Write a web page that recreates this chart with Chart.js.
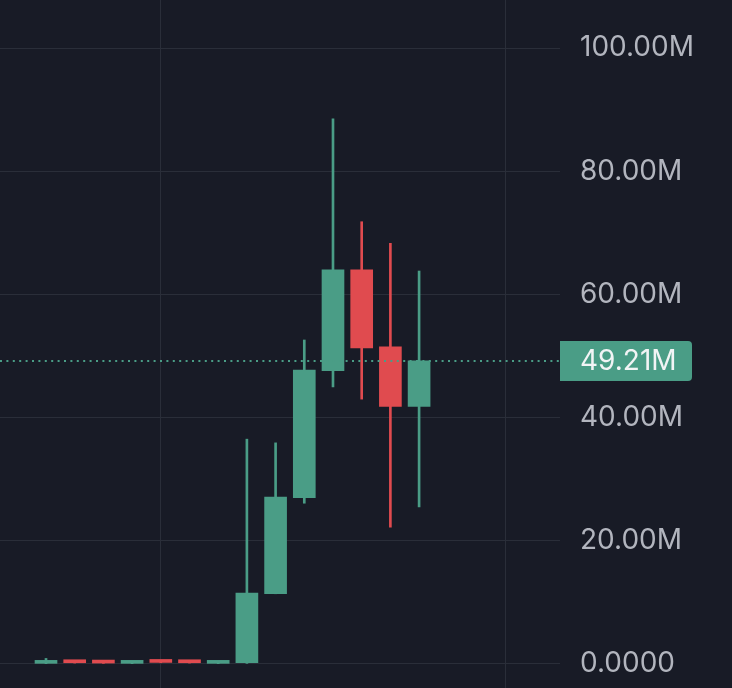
<!DOCTYPE html>
<html>
<head>
<meta charset="utf-8">
<script src="https://cdn.jsdelivr.net/npm/chart.js@4"></script>
<style>
  html, body { margin: 0; padding: 0; background: #181b26; }
  #wrap { width: 732px; height: 688px; }
</style>
</head>
<body>
<div id="wrap"><canvas id="candles" width="732" height="688"></canvas></div>
<script>
// values in millions
const opens  = [0.10, 0.40, 0.35, 0.10, 0.45, 0.40, 0.10, 0.20, 11.4, 27.0, 47.6, 64.0, 51.5, 41.8]
const closes = [0.30, 0.20, 0.15, 0.30, 0.25, 0.20, 0.30, 11.5, 27.1, 47.7, 64.0, 51.3, 41.8, 49.21]
const highs  = [0.90, 0.45, 0.40, 0.35, 0.50, 0.45, 0.35, 36.5, 35.9, 52.6, 88.5, 71.8, 68.3, 63.8]
const lows   = [0.05, 0.15, 0.10, 0.05, 0.20, 0.15, 0.05, 0.10, 11.4, 26.1, 45.0, 43.0, 22.2, 25.5]
const yTicks = [0, 20, 40, 60, 80, 100]
const xGridAt = [4, 16]
const lastPrice = 49.21

const green = '#4a9d86'
const red = '#e04b4f'
const fontFam = 'Inter, "Noto Sans", sans-serif'

const upDown = opens.map((o, i) => closes[i] >= o ? green : red)

function fmt(v) {
    if (v === 0) return '0.0000'
    return v.toFixed(2) + 'M'
}

// dotted last price line + label on the axis
const lastPricePlugin = {
    id: 'lastPrice',
    afterDatasetsDraw(chart) {
        const ctx = chart.ctx
        const y = chart.scales.y.getPixelForValue(lastPrice)
        const area = chart.chartArea
        ctx.save()
        ctx.strokeStyle = green
        ctx.lineWidth = 2
        ctx.setLineDash([2, 4.4])
        ctx.beginPath()
        ctx.moveTo(area.left, y)
        ctx.lineTo(area.right, y)
        ctx.stroke()
        ctx.restore()
    },
    afterDraw(chart) {
        const ctx = chart.ctx
        const y = chart.scales.y.getPixelForValue(lastPrice)
        const left = chart.chartArea.right
        ctx.save()
        ctx.fillStyle = green
        ctx.beginPath()
        ctx.roundRect(left, y - 20, 132, 40, [0, 4, 4, 0])
        ctx.fill()
        ctx.fillStyle = '#f2f4f5'
        ctx.font = '28px ' + fontFam
        ctx.textBaseline = 'middle'
        ctx.textAlign = 'left'
        ctx.fillText(fmt(lastPrice), left + 20, y + 1)
        ctx.restore()
    }
}

const ctx = document.getElementById('candles').getContext('2d')

new Chart(ctx, {
    type: 'bar',
    data: {
        datasets: [
            {
                // bodies
                data: opens.map((o, i) => ({x: i, y: [o, closes[i]]})),
                backgroundColor: upDown,
                barThickness: 22,
                minBarLength: 3,
                grouped: false,
                order: 1
            },
            {
                // wicks
                data: highs.map((h, i) => ({x: i, y: [lows[i], h]})),
                backgroundColor: upDown,
                barThickness: 2,
                grouped: false,
                order: 2
            }
        ]
    },
    options: {
        responsive: false,
        animation: false,
        devicePixelRatio: 1,
        layout: { padding: 0 },
        plugins: {
            legend: { display: false },
            tooltip: { enabled: false }
        },
        scales: {
            x: {
                type: 'linear',
                offset: false,
                min: -1.603,
                max: 17.91,
                afterBuildTicks: (scale) => {
                    scale.ticks = xGridAt.map(v => ({value: v}))
                },
                afterFit: (scale) => {
                    scale.paddingLeft = 0
                    scale.paddingRight = 0
                },
                ticks: { display: false },
                grid: { color: '#2a2e39', lineWidth: 1, drawTicks: false, offset: false },
                border: { display: false }
            },
            y: {
                position: 'right',
                min: -3.9,
                max: 107.8,
                afterBuildTicks: (scale) => {
                    scale.ticks = yTicks.map(v => ({value: v}))
                },
                afterFit: (scale) => {
                    scale.width = 172
                    scale.paddingTop = 0
                    scale.paddingBottom = 0
                },
                ticks: {
                    padding: 20,
                    color: '#b2b5be',
                    font: { family: fontFam, size: 28 },
                    callback: (v) => fmt(v)
                },
                grid: { color: '#2a2e39', lineWidth: 1, drawTicks: false },
                border: { display: false }
            }
        }
    },
    plugins: [lastPricePlugin]
})
</script>
</body>
</html>
